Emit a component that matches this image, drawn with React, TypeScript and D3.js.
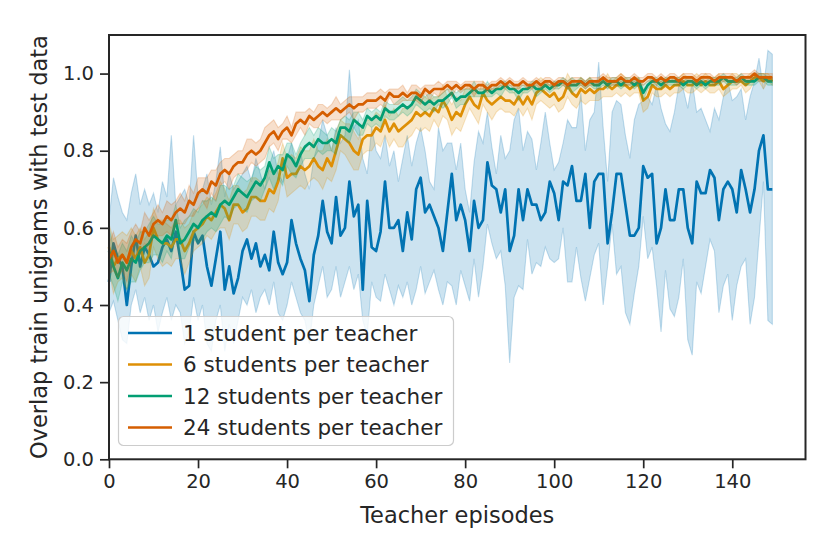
import React, { useEffect, useRef } from 'react';
import * as d3 from 'd3';

// mean and 95% band of each run, per teacher episode (0..149)
const blueMean = [
  0.46, 0.56, 0.52, 0.50, 0.40, 0.50, 0.58, 0.50, 0.55, 0.53,
  0.50, 0.51, 0.55, 0.57, 0.54, 0.59, 0.52, 0.44, 0.45, 0.59,
  0.56, 0.58, 0.50, 0.45, 0.52, 0.59, 0.44, 0.50, 0.43, 0.47,
  0.54, 0.57, 0.52, 0.56, 0.50, 0.53, 0.49, 0.59, 0.51, 0.48,
  0.51, 0.62, 0.56, 0.52, 0.49, 0.41, 0.53, 0.58, 0.67, 0.59,
  0.56, 0.68, 0.58, 0.60, 0.72, 0.63, 0.66, 0.44, 0.67, 0.55,
  0.54, 0.59, 0.72, 0.60, 0.60, 0.62, 0.54, 0.64, 0.57, 0.70,
  0.73, 0.64, 0.66, 0.63, 0.60, 0.54, 0.64, 0.74, 0.62, 0.66,
  0.62, 0.54, 0.67, 0.60, 0.62, 0.77, 0.71, 0.70, 0.64, 0.70,
  0.54, 0.58, 0.70, 0.62, 0.70, 0.66, 0.66, 0.62, 0.64, 0.72,
  0.69, 0.62, 0.72, 0.71, 0.76, 0.67, 0.67, 0.74, 0.60, 0.72,
  0.74, 0.74, 0.56, 0.64, 0.74, 0.74, 0.66, 0.58, 0.58, 0.60,
  0.76, 0.73, 0.74, 0.56, 0.60, 0.70, 0.62, 0.62, 0.70, 0.70,
  0.60, 0.56, 0.72, 0.69, 0.69, 0.75, 0.73, 0.62, 0.70, 0.72,
  0.70, 0.64, 0.75, 0.70, 0.64, 0.70, 0.80, 0.84, 0.70, 0.70,
];
const blueHi = [
  0.62, 0.73, 0.68, 0.64, 0.62, 0.69, 0.74, 0.66, 0.70, 0.66,
  0.69, 0.64, 0.72, 0.68, 0.84, 0.66, 0.68, 0.70, 0.66, 0.84,
  0.68, 0.70, 0.74, 0.66, 0.72, 0.81, 0.68, 0.74, 0.70, 0.72,
  0.74, 0.76, 0.72, 0.78, 0.74, 0.70, 0.76, 0.80, 0.74, 0.72,
  0.78, 0.82, 0.76, 0.80, 0.74, 0.70, 0.78, 0.82, 0.88, 0.84,
  0.80, 0.86, 0.82, 0.84, 1.01, 0.86, 0.88, 0.78, 0.74, 0.86,
  0.80, 0.78, 0.84, 0.76, 0.80, 0.72, 0.78, 0.84, 0.76, 0.82,
  0.86, 0.80, 0.72, 0.70, 0.86, 0.80, 0.82, 0.82, 0.75, 0.82,
  0.70, 0.64, 0.77, 0.85, 0.82, 0.90, 0.81, 0.74, 0.84, 0.78,
  0.80, 0.88, 0.91, 0.80, 0.85, 0.83, 0.75, 0.82, 0.90, 0.82,
  0.75, 0.77, 0.82, 0.88, 0.86, 0.86, 0.95, 0.80, 0.88, 0.90,
  1.03, 0.86, 0.72, 0.90, 0.93, 0.92, 0.84, 0.78, 0.88, 0.92,
  0.93, 0.94, 0.92, 0.97, 0.91, 0.87, 0.85, 0.90, 0.97, 0.96,
  0.91, 0.98, 0.90, 0.91, 0.88, 0.85, 0.91, 0.88, 0.94, 0.98,
  0.93, 0.94, 0.96, 0.88, 0.94, 0.98, 1.04, 0.96, 1.06, 1.05,
];
const blueLo = [
  0.38, 0.41, 0.36, 0.31, 0.30, 0.40, 0.44, 0.38, 0.42, 0.36,
  0.40, 0.33, 0.38, 0.42, 0.36, 0.40, 0.38, 0.30, 0.33, 0.42,
  0.36, 0.40, 0.30, 0.28, 0.36, 0.40, 0.28, 0.35, 0.30, 0.36,
  0.42, 0.40, 0.44, 0.38, 0.42, 0.44, 0.40, 0.46, 0.38, 0.36,
  0.40, 0.46, 0.42, 0.38, 0.36, 0.30, 0.40, 0.45, 0.50, 0.42,
  0.44, 0.50, 0.42, 0.46, 0.50, 0.44, 0.48, 0.36, 0.32, 0.46,
  0.42, 0.41, 0.48, 0.44, 0.40, 0.45, 0.42, 0.46, 0.40, 0.44,
  0.50, 0.43, 0.46, 0.49, 0.44, 0.40, 0.46, 0.45, 0.40, 0.49,
  0.45, 0.41, 0.52, 0.42, 0.50, 0.61, 0.56, 0.52, 0.54, 0.45,
  0.25, 0.42, 0.45, 0.44, 0.57, 0.48, 0.51, 0.50, 0.55, 0.52,
  0.51, 0.52, 0.60, 0.46, 0.46, 0.55, 0.47, 0.41, 0.47, 0.53,
  0.56, 0.40, 0.50, 0.61, 0.48, 0.50, 0.38, 0.35, 0.43, 0.50,
  0.63, 0.52, 0.55, 0.45, 0.33, 0.49, 0.39, 0.37, 0.42, 0.52,
  0.31, 0.27, 0.46, 0.43, 0.50, 0.57, 0.54, 0.38, 0.45, 0.48,
  0.36, 0.45, 0.50, 0.52, 0.35, 0.42, 0.57, 0.72, 0.36, 0.35,
];

const orangeMean = [
  0.55, 0.50, 0.52, 0.53, 0.51, 0.54, 0.52, 0.55, 0.51, 0.53,
  0.60, 0.57, 0.56, 0.56, 0.55, 0.57, 0.57, 0.54, 0.56, 0.59,
  0.60, 0.61, 0.63, 0.62, 0.64, 0.66, 0.65, 0.62, 0.66, 0.66,
  0.64, 0.65, 0.68, 0.68, 0.67, 0.67, 0.70, 0.69, 0.72, 0.78,
  0.73, 0.74, 0.74, 0.76, 0.75, 0.76, 0.78, 0.76, 0.75, 0.78,
  0.76, 0.80, 0.84, 0.83, 0.82, 0.80, 0.79, 0.83, 0.84, 0.84,
  0.86, 0.85, 0.88, 0.85, 0.87, 0.85, 0.86, 0.87, 0.88, 0.90,
  0.89, 0.90, 0.89, 0.91, 0.90, 0.93, 0.91, 0.88, 0.90, 0.89,
  0.92, 0.94, 0.92, 0.91, 0.95, 0.93, 0.92, 0.93, 0.94, 0.93,
  0.93, 0.92, 0.94, 0.92, 0.94, 0.92, 0.95, 0.96, 0.95, 0.94,
  0.95, 0.93, 0.94, 0.97, 0.95, 0.94, 0.96, 0.95, 0.96, 0.95,
  0.96, 0.96, 0.97, 0.96, 0.97, 0.97, 0.97, 0.96, 0.97, 0.97,
  0.93, 0.94, 0.97, 0.96, 0.96, 0.97, 0.96, 0.97, 0.97, 0.98,
  0.97, 0.97, 0.98, 0.97, 0.98, 0.97, 0.97, 0.98, 0.96, 0.97,
  0.98, 0.98, 0.98, 0.97, 0.98, 0.99, 0.99, 0.98, 0.99, 0.98,
];
const orangeCi = [
  0.06, 0.07, 0.06, 0.06, 0.07, 0.06, 0.06, 0.05, 0.06, 0.06,
  0.05, 0.05, 0.06, 0.05, 0.05, 0.05, 0.05, 0.06, 0.05, 0.05,
  0.05, 0.05, 0.05, 0.05, 0.05, 0.06, 0.05, 0.05, 0.05, 0.05,
  0.05, 0.05, 0.05, 0.05, 0.05, 0.05, 0.05, 0.05, 0.05, 0.04,
  0.05, 0.05, 0.04, 0.05, 0.05, 0.04, 0.05, 0.04, 0.05, 0.05,
  0.04, 0.05, 0.04, 0.04, 0.05, 0.05, 0.04, 0.04, 0.04, 0.04,
  0.04, 0.04, 0.04, 0.04, 0.04, 0.04, 0.05, 0.04, 0.04, 0.04,
  0.04, 0.04, 0.04, 0.03, 0.04, 0.04, 0.03, 0.04, 0.04, 0.04,
  0.04, 0.03, 0.03, 0.04, 0.03, 0.03, 0.04, 0.03, 0.03, 0.03,
  0.03, 0.03, 0.03, 0.03, 0.03, 0.04, 0.03, 0.03, 0.03, 0.03,
  0.03, 0.03, 0.03, 0.03, 0.03, 0.03, 0.03, 0.03, 0.03, 0.02,
  0.03, 0.02, 0.03, 0.02, 0.02, 0.03, 0.02, 0.02, 0.02, 0.02,
  0.03, 0.03, 0.02, 0.02, 0.02, 0.02, 0.02, 0.02, 0.02, 0.02,
  0.02, 0.02, 0.02, 0.02, 0.02, 0.02, 0.02, 0.02, 0.02, 0.02,
  0.02, 0.02, 0.01, 0.02, 0.02, 0.01, 0.01, 0.02, 0.01, 0.01,
];

const greenMean = [
  0.54, 0.50, 0.47, 0.51, 0.49, 0.52, 0.51, 0.54, 0.55, 0.56,
  0.58, 0.57, 0.56, 0.58, 0.57, 0.62, 0.56, 0.57, 0.59, 0.61,
  0.60, 0.62, 0.63, 0.64, 0.63, 0.66, 0.67, 0.66, 0.68, 0.70,
  0.69, 0.68, 0.70, 0.72, 0.71, 0.73, 0.77, 0.74, 0.76, 0.75,
  0.79, 0.78, 0.76, 0.79, 0.81, 0.82, 0.81, 0.83, 0.82, 0.82,
  0.83, 0.82, 0.86, 0.86, 0.85, 0.88, 0.87, 0.86, 0.89, 0.88,
  0.89, 0.88, 0.91, 0.90, 0.90, 0.91, 0.92, 0.91, 0.92, 0.94,
  0.93, 0.92, 0.93, 0.92, 0.93, 0.93, 0.94, 0.95, 0.93, 0.94,
  0.94, 0.95, 0.96, 0.95, 0.95, 0.96, 0.95, 0.96, 0.96, 0.97,
  0.96, 0.96, 0.95, 0.96, 0.96, 0.97, 0.96, 0.96, 0.97, 0.96,
  0.97, 0.97, 0.98, 0.97, 0.97, 0.97, 0.98, 0.97, 0.98, 0.97,
  0.97, 0.98, 0.97, 0.98, 0.98, 0.97, 0.98, 0.98, 0.97, 0.98,
  0.95, 0.97, 0.98, 0.98, 0.97, 0.98, 0.98, 0.98, 0.98, 0.97,
  0.98, 0.98, 0.97, 0.98, 0.97, 0.98, 0.98, 0.98, 0.99, 0.98,
  0.98, 0.98, 0.99, 0.98, 0.98, 0.98, 0.99, 0.99, 0.98, 0.98,
];
const greenCi = [
  0.06, 0.05, 0.06, 0.05, 0.05, 0.06, 0.05, 0.05, 0.04, 0.05,
  0.05, 0.04, 0.05, 0.04, 0.05, 0.04, 0.04, 0.05, 0.04, 0.04,
  0.04, 0.05, 0.04, 0.04, 0.04, 0.05, 0.04, 0.04, 0.03, 0.04,
  0.04, 0.04, 0.03, 0.04, 0.04, 0.03, 0.04, 0.04, 0.03, 0.04,
  0.03, 0.04, 0.03, 0.03, 0.03, 0.04, 0.03, 0.03, 0.03, 0.02,
  0.03, 0.03, 0.02, 0.03, 0.03, 0.02, 0.03, 0.02, 0.02, 0.02,
  0.02, 0.02, 0.02, 0.02, 0.02, 0.02, 0.02, 0.02, 0.02, 0.02,
  0.02, 0.02, 0.02, 0.02, 0.01, 0.02, 0.02, 0.01, 0.02, 0.02,
  0.02, 0.01, 0.02, 0.01, 0.01, 0.02, 0.01, 0.01, 0.02, 0.01,
  0.01, 0.01, 0.02, 0.01, 0.01, 0.01, 0.02, 0.01, 0.01, 0.01,
  0.01, 0.01, 0.01, 0.01, 0.02, 0.01, 0.01, 0.01, 0.01, 0.01,
  0.01, 0.01, 0.01, 0.01, 0.01, 0.01, 0.01, 0.01, 0.01, 0.01,
  0.02, 0.01, 0.01, 0.01, 0.01, 0.01, 0.01, 0.01, 0.01, 0.01,
  0.01, 0.01, 0.01, 0.01, 0.01, 0.01, 0.01, 0.01, 0.01, 0.01,
  0.01, 0.01, 0.01, 0.01, 0.01, 0.01, 0.01, 0.01, 0.01, 0.01,
];

const redMean = [
  0.52, 0.54, 0.51, 0.53, 0.51, 0.55, 0.57, 0.56, 0.60, 0.58,
  0.61, 0.62, 0.61, 0.63, 0.62, 0.64, 0.65, 0.64, 0.67, 0.66,
  0.69, 0.70, 0.69, 0.72, 0.71, 0.74, 0.75, 0.74, 0.76, 0.77,
  0.77, 0.79, 0.80, 0.79, 0.80, 0.82, 0.84, 0.85, 0.83, 0.85,
  0.86, 0.84, 0.87, 0.88, 0.87, 0.89, 0.88, 0.89, 0.90, 0.89,
  0.90, 0.91, 0.90, 0.91, 0.92, 0.91, 0.92, 0.92, 0.93, 0.93,
  0.93, 0.94, 0.93, 0.95, 0.94, 0.94, 0.95, 0.94, 0.95, 0.95,
  0.94, 0.96, 0.95, 0.96, 0.96, 0.96, 0.97, 0.96, 0.97, 0.96,
  0.97, 0.97, 0.96, 0.97, 0.97, 0.96, 0.97, 0.97, 0.98, 0.97,
  0.98, 0.97, 0.97, 0.98, 0.97, 0.97, 0.98, 0.97, 0.98, 0.98,
  0.97, 0.98, 0.98, 0.97, 0.98, 0.98, 0.98, 0.97, 0.98, 0.98,
  0.98, 0.99, 0.98, 0.98, 0.98, 0.99, 0.98, 0.98, 0.99, 0.98,
  0.98, 0.99, 0.99, 0.98, 0.99, 0.98, 0.99, 0.99, 0.98, 0.99,
  0.99, 0.99, 0.98, 0.99, 0.99, 0.99, 0.98, 0.99, 0.99, 0.99,
  0.99, 0.98, 0.99, 0.99, 0.99, 1.00, 0.99, 0.99, 0.99, 0.99,
];
const redCi = [
  0.04, 0.05, 0.04, 0.04, 0.05, 0.04, 0.04, 0.03, 0.04, 0.04,
  0.03, 0.04, 0.03, 0.04, 0.04, 0.03, 0.04, 0.03, 0.04, 0.03,
  0.04, 0.03, 0.04, 0.03, 0.04, 0.03, 0.03, 0.04, 0.03, 0.03,
  0.03, 0.04, 0.03, 0.03, 0.03, 0.04, 0.03, 0.03, 0.03, 0.02,
  0.03, 0.02, 0.03, 0.02, 0.03, 0.02, 0.02, 0.03, 0.02, 0.02,
  0.02, 0.03, 0.02, 0.02, 0.02, 0.03, 0.02, 0.02, 0.02, 0.02,
  0.02, 0.02, 0.02, 0.01, 0.02, 0.02, 0.02, 0.01, 0.02, 0.02,
  0.02, 0.01, 0.02, 0.01, 0.02, 0.01, 0.01, 0.02, 0.01, 0.01,
  0.01, 0.01, 0.02, 0.01, 0.01, 0.01, 0.01, 0.01, 0.01, 0.01,
  0.01, 0.01, 0.01, 0.01, 0.01, 0.01, 0.01, 0.01, 0.01, 0.01,
  0.01, 0.01, 0.01, 0.01, 0.01, 0.01, 0.01, 0.01, 0.01, 0.01,
  0.01, 0.01, 0.01, 0.01, 0.01, 0.01, 0.01, 0.01, 0.01, 0.01,
  0.01, 0.01, 0.01, 0.01, 0.01, 0.01, 0.01, 0.01, 0.01, 0.01,
  0.01, 0.01, 0.01, 0.01, 0.01, 0.01, 0.01, 0.01, 0.01, 0.01,
  0.01, 0.01, 0.01, 0.01, 0.01, 0.01, 0.01, 0.01, 0.01, 0.01,
];

const seriesLabels = [
  '1 student per teacher',
  '6 students per teacher',
  '12 students per teacher',
  '24 students per teacher',
];
const seriesColors = ['#0173b2', '#de8f05', '#029e73', '#d55e00'];
const xTicks = [0, 20, 40, 60, 80, 100, 120, 140];
const yTicks = [0, 0.2, 0.4, 0.6, 0.8, 1.0];

const W = 830;
const H = 554;
const FONT = '"DejaVu Sans", sans-serif';
const INK = '#262626';

const App: React.FC = () => {
  const svgRef = useRef<SVGSVGElement>(null);

  useEffect(() => {
    document.body.style.margin = '0';
    if (!svgRef.current) return;
    const svg = d3.select(svgRef.current);
    svg.selectAll('*').remove();

    const left = 109, right = 805.5, top = 35, bottom = 459.3;
    const x = d3.scaleLinear().domain([0, 156.45]).range([left, right]);
    const y = d3.scaleLinear().domain([0, 1.1]).range([bottom, top]);

    type Pt = { i: number; m: number; lo: number; hi: number };
    const blue: Pt[] = blueMean.map((m, i) => ({ i, m, lo: blueLo[i], hi: blueHi[i] }));
    const band = (mean: number[], ci: number[]): Pt[] =>
      mean.map((m, i) => ({ i, m, lo: m - ci[i], hi: m + ci[i] }));
    const series = [blue, band(orangeMean, orangeCi), band(greenMean, greenCi), band(redMean, redCi)];

    const area = d3.area<Pt>().x(d => x(d.i)).y0(d => y(d.lo)).y1(d => y(d.hi));
    const line = d3.line<Pt>().x(d => x(d.i)).y(d => y(d.m));

    const plot = svg.append('g');
    series.forEach((s, k) => {
      plot.append('path')
        .attr('d', area(s)!)
        .attr('fill', seriesColors[k])
        .attr('fill-opacity', 0.2)
        .attr('stroke', seriesColors[k])
        .attr('stroke-opacity', 0.22)
        .attr('stroke-width', 1.1);
      plot.append('path')
        .attr('d', line(s)!)
        .attr('fill', 'none')
        .attr('stroke', seriesColors[k])
        .attr('stroke-width', 2.7)
        .attr('stroke-linejoin', 'round');
    });

    // axes
    const xAxis = svg.append('g')
      .attr('transform', `translate(0,${bottom})`)
      .call(d3.axisBottom(x).tickValues(xTicks).tickSize(9).tickPadding(6).tickFormat(d3.format('d')));
    const yAxis = svg.append('g')
      .attr('transform', `translate(${left},0)`)
      .call(d3.axisLeft(y).tickValues(yTicks).tickSize(9).tickPadding(6).tickFormat(d3.format('.1f')));
    [xAxis, yAxis].forEach(a => {
      a.select('.domain').remove();
      a.selectAll('line').attr('stroke', INK).attr('stroke-width', 1.7);
      a.selectAll('text').attr('fill', INK).style('font-family', FONT).style('font-size', '19.5px');
    });

    // frame
    svg.append('rect')
      .attr('x', left).attr('y', top)
      .attr('width', right - left).attr('height', bottom - top)
      .attr('fill', 'none').attr('stroke', INK).attr('stroke-width', 2);

    svg.append('text')
      .attr('x', (left + right) / 2).attr('y', 523)
      .attr('text-anchor', 'middle')
      .attr('fill', INK)
      .style('font-family', FONT).style('font-size', '22.5px')
      .text('Teacher episodes');

    svg.append('text')
      .attr('transform', `translate(47,${(top + bottom) / 2}) rotate(-90)`)
      .attr('text-anchor', 'middle')
      .attr('fill', INK)
      .style('font-family', FONT).style('font-size', '22.5px')
      .text('Overlap train unigrams with test data');

    // legend
    const lg = svg.append('g');
    lg.append('rect')
      .attr('x', 118.5).attr('y', 316.5).attr('width', 335).attr('height', 129).attr('rx', 5)
      .attr('fill', '#fff').attr('fill-opacity', 0.8)
      .attr('stroke', '#cccccc').attr('stroke-width', 1.2);
    seriesLabels.forEach((label, k) => {
      const cy = 333 + k * 31.5;
      lg.append('line')
        .attr('x1', 128).attr('x2', 172).attr('y1', cy).attr('y2', cy)
        .attr('stroke', seriesColors[k]).attr('stroke-width', 2.7);
      lg.append('text')
        .attr('x', 183).attr('y', cy).attr('dy', '0.36em')
        .attr('fill', INK)
        .style('font-family', FONT).style('font-size', '21.5px')
        .text(label);
    });
  }, []);

  return <svg ref={svgRef} width={W} height={H} style={{ display: 'block', background: '#fff' }} />;
};

export default App;
